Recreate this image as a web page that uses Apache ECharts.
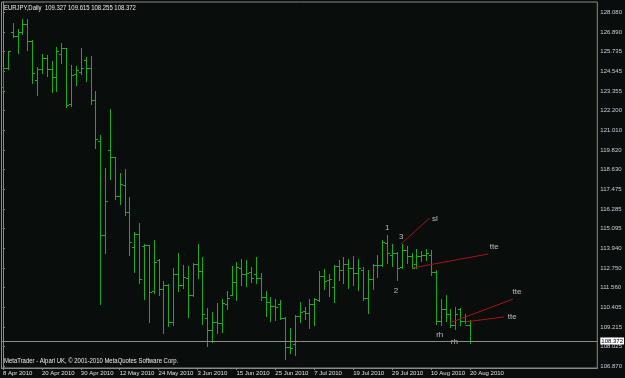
<!DOCTYPE html>
<html><head><meta charset="utf-8">
<script src="https://cdn.jsdelivr.net/npm/echarts@6/dist/echarts.min.js"></script>
<style>html,body{margin:0;padding:0;background:#090d0b;overflow:hidden}#c{width:625px;height:378px;}</style>
</head><body><div id="c"></div>
<script>
// ---- data (EURJPY daily, 8 Apr 2010 .. 20 Aug 2010, one entry per trading day) ----
const opens  = [123.6,124.75,126.87,126.65,126.87,127.34,126.36,124.0,124.65,125.31,124.65,124.17,125.57,125.91,122.58,124.37,124.5,125.21,124.71,122.78,
  120.38,114.74,119.79,119.39,117.03,117.69,116.08,114.0,114.78,114.05,114.09,111.39,113.25,111.51,111.75,109.48,112.41,111.73,112.17,111.13,
  113.01,112.57,109.76,109.0,109.52,109.46,110.6,111.15,111.91,112.75,112.41,112.51,112.41,112.15,111.02,110.72,110.45,110.6,109.74,108.0,
  108.16,109.86,110.16,110.06,110.6,110.8,112.29,112.0,111.59,112.85,112.65,113.0,112.75,112.45,112.6,110.95,112.1,112.9,112.9,114.25,
  113.5,113.65,112.8,113.85,113.45,113.0,113.45,113.55,113.55,112.5,109.56,110.26,110.0,109.35,110.26,109.56,109.327];
const highs  = [124.81,125.75,127.4,127.06,127.66,127.66,126.41,124.77,125.57,125.51,125.15,126.0,126.25,125.91,124.91,124.85,125.95,125.41,125.45,123.37,
  120.72,118.73,122.28,119.39,118.43,118.69,116.97,114.9,115.46,114.15,114.11,114.44,113.29,111.99,111.79,112.75,113.65,112.95,112.85,113.05,
  114.15,113.39,110.32,110.1,110.66,110.86,111.39,112.85,113.09,113.31,113.21,112.81,113.41,112.45,111.39,111.02,110.9,110.81,109.82,109.12,
  109.9,110.73,110.42,110.86,110.96,112.55,112.69,112.41,112.95,113.25,113.41,113.3,113.45,113.31,112.81,112.65,113.0,113.55,114.44,114.74,
  114.2,113.69,114.2,114.05,113.65,113.89,113.75,113.89,113.8,112.65,110.9,111.15,110.26,110.42,110.36,110.0,109.615];
const lows   = [123.42,124.67,126.57,125.65,126.78,125.81,123.85,123.12,124.45,124.25,123.31,123.37,125.01,122.36,122.46,123.71,124.37,123.95,122.58,119.93,
  110.56,113.65,118.09,116.9,116.58,115.94,113.51,112.49,111.83,110.87,109.52,111.26,111.11,108.86,109.26,109.32,111.37,111.55,109.79,111.05,
  112.15,109.4,108.06,108.33,108.86,108.92,110.26,111.11,110.85,111.71,111.65,111.89,111.83,110.85,109.85,109.56,109.62,109.66,107.31,107.67,
  107.51,109.5,109.66,109.12,109.3,110.75,111.51,111.09,110.69,112.01,111.85,111.55,111.7,111.45,110.8,110.05,111.5,112.2,112.85,113.05,
  112.85,112.0,112.75,113.05,112.75,112.75,113.15,113.25,112.35,109.4,109.3,109.56,109.22,109.1,109.3,109.42,108.255];
const closes = [124.7,125.75,126.65,126.87,127.34,126.36,124.41,124.65,125.31,124.65,124.17,125.73,125.91,122.5,124.29,124.61,124.75,124.75,122.78,120.47,
  114.74,116.78,119.39,117.03,117.79,116.08,114.3,114.78,112.09,114.1,111.32,113.11,111.51,111.75,109.48,112.41,111.73,112.21,111.13,113.01,
  112.57,109.96,109.0,109.52,109.46,110.66,110.96,111.91,112.81,112.41,112.45,112.15,112.15,111.02,110.72,110.45,110.42,109.74,108.0,107.97,
  109.86,110.12,110.02,110.56,110.9,112.29,111.95,112.1,112.89,112.65,113.01,112.75,112.45,112.75,110.95,112.1,112.9,112.9,114.28,113.65,
  113.65,112.75,113.85,113.45,112.75,113.45,113.55,113.65,112.5,109.55,110.26,110.0,109.35,110.0,109.56,109.33,108.372];

const dateTickIndex  = [0,8,16,24,32,40,48,56,64,72,80,88,96];
const dateTickLabels = ["8 Apr 2010","20 Apr 2010","30 Apr 2010","12 May 2010","24 May 2010","3 Jun 2010","15 Jun 2010",
  "25 Jun 2010","7 Jul 2010","19 Jul 2010","29 Jul 2010","10 Aug 2010","20 Aug 2010"];
const priceTickLabels = ["128.080","126.890","125.735","124.545","123.355","122.200","121.010","119.820","118.630","117.475",
  "116.285","115.095","113.940","112.750","111.560","110.405","109.215","108.025","106.870"];
const priceTicks = priceTickLabels.map(Number);
const lastPrice = 108.372;
const headerText = "EURJPY,Daily  109.327 109.615 108.255 108.372";
const footerText = "MetaTrader - Alpari UK, \u00a9 2001-2010 MetaQuotes Software Corp.";

const noteText = ["1","3","2","sl","tte","tte","tte","rh","rh"];
const noteX    = [79, 81.9, 80.8, 88.8, 101, 105.7, 104.7, 89.8, 92.8];
const noteY    = [115.14, 114.6, 111.36, 115.68, 114.0, 111.3, 109.81, 108.73, 108.31];

const trendStartX = [81.84, 84.08, 91.82, 95.08];
const trendStartY = [114.18, 112.74, 109.45, 109.51];
const trendEndX   = [87.75, 99.78, 104.87, 103.03];
const trendEndY   = [115.74, 113.58, 110.88, 109.81];

// ---- chart ----
const barData = opens.map((o,i)=>[i,o,highs[i],lows[i],closes[i]]);
const chart = echarts.init(document.getElementById('c'), null, {renderer:'canvas'});
const barColor = '#1aac1a';
const grey = '#8a8a8a';

chart.setOption({
  backgroundColor:'#090d0b',
  animation:false,
  grid:{left:1,right:23,top:2,bottom:10,show:true,borderColor:grey,borderWidth:1,backgroundColor:'transparent'},
  xAxis:{type:'value',min:-0.306,max:122.2,
    axisLine:{show:true,lineStyle:{color:grey}},
    splitLine:{show:false},
    axisTick:{show:true,length:2,customValues:dateTickIndex,lineStyle:{color:grey}},
    axisLabel:{show:true,customValues:dateTickIndex,margin:2,fontSize:6,fontFamily:'Liberation Sans',color:'#e0e0e0',align:'left',
      formatter:function(v){const k=dateTickIndex.indexOf(Math.round(v));return k>=0?dateTickLabels[k]:'';}}
  },
  yAxis:{type:'value',position:'right',min:106.75,max:128.68,scale:true,
    axisLine:{show:true,lineStyle:{color:grey}},
    splitLine:{show:false},
    axisTick:{show:true,length:2,customValues:priceTicks,lineStyle:{color:grey}},
    axisLabel:{show:true,customValues:priceTicks,margin:3,fontSize:6,fontFamily:'Liberation Sans',color:'#c8d0da',
      formatter:function(v){let k=0,b=1e9;priceTicks.forEach((t,j)=>{if(Math.abs(t-v)<b){b=Math.abs(t-v);k=j;}});return priceTickLabels[k];}}
  },
  graphic:[
    {type:'text',left:4,top:5,scaleX:0.85,style:{text:headerText,fill:'#ececec',font:'7px "Liberation Sans"'}},
    {type:'text',left:4,top:358,scaleX:0.85,style:{text:footerText,fill:'#ececec',font:'7px "Liberation Sans"'}}
  ],
  series:[
    {type:'custom',data:barData,encode:{x:0,y:[1,2,3,4]},clip:true,
      renderItem:function(params,api){
        const x=api.value(0);
        const h=api.coord([x,api.value(2)]), l=api.coord([x,api.value(3)]);
        const o=api.coord([x,api.value(1)]), c=api.coord([x,api.value(4)]);
        const px=Math.round(h[0])+0.5;
        const st={stroke:barColor,lineWidth:1};
        return {type:'group',children:[
          {type:'line',shape:{x1:px,y1:Math.round(h[1]),x2:px,y2:Math.round(l[1])+1},style:st},
          {type:'line',shape:{x1:px-2.5,y1:Math.round(o[1])+0.5,x2:px,y2:Math.round(o[1])+0.5},style:st},
          {type:'line',shape:{x1:px,y1:Math.round(c[1])+0.5,x2:px+2.5,y2:Math.round(c[1])+0.5},style:st}
        ]};
      },
      markLine:{silent:true,symbol:['none','none'],animation:false,
        lineStyle:{color:'#8c8c8c',type:'solid',width:1},
        label:{show:true,position:'end',distance:3,formatter:lastPrice.toFixed(3),fontSize:6,fontFamily:'Liberation Sans',
          color:'#000',backgroundColor:'#ffffff',padding:[1,1,0,1]},
        data:[{yAxis:lastPrice}]}
    },
    {type:'lines',coordinateSystem:'cartesian2d',silent:true,
      lineStyle:{color:'#a81414',width:1,opacity:1},
      data:trendStartX.map((x,i)=>({coords:[[x,trendStartY[i]],[trendEndX[i],trendEndY[i]]]}))
    },
    {type:'scatter',silent:true,symbolSize:1,itemStyle:{color:'rgba(0,0,0,0)'},
      data:noteText.map((t,i)=>[noteX[i],noteY[i],t]),
      label:{show:true,position:'inside',formatter:p=>p.data[2],fontSize:8,fontFamily:'Liberation Sans',color:'#e2e2e2'}
    }
  ]
});
</script></body></html>
